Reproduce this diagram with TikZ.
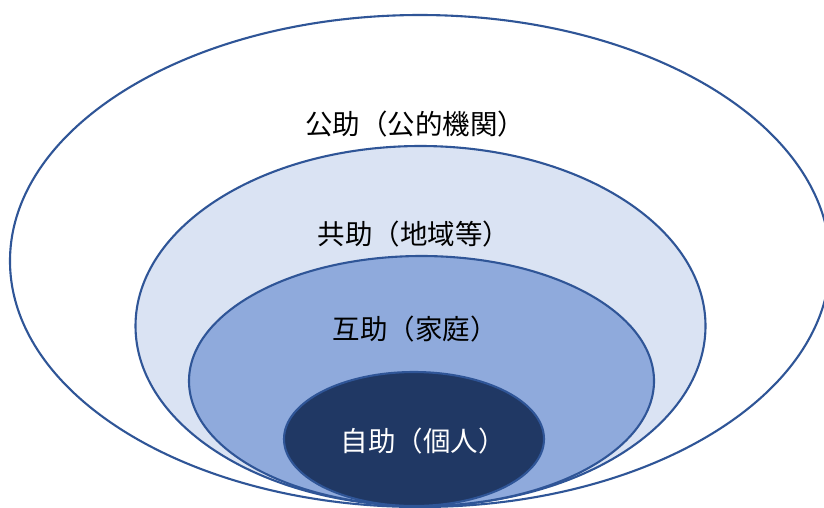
\documentclass[tikz,border=0pt]{standalone}
\usepackage{fontspec}
\newfontfamily\cjk{Noto Sans CJK JP}
\definecolor{edge}{HTML}{2F5597}
\definecolor{lightfill}{HTML}{DAE3F3}
\definecolor{midfill}{HTML}{8FAADC}
\definecolor{darkfill}{HTML}{203864}
\tikzset{
  ring/.style={draw=edge, line width=2.1pt},
  lbl/.style={font=\cjk\fontsize{27.5}{32}\selectfont, text=black, inner sep=0pt, anchor=center}
}
\begin{document}
\begin{tikzpicture}[x=1pt,y=-1pt]
\useasboundingbox (0,0) rectangle (824,507);
\clip (0,0) rectangle (824,507);
\fill[white] (0,0) rectangle (824,507);
\path[ring, fill=white] (420,261) ellipse [x radius=410, y radius=246];
\path[ring, fill=lightfill] (420.5,326) ellipse [x radius=285, y radius=180];
\path[ring, fill=midfill] (421.5,381) ellipse [x radius=232.5, y radius=125];
\path[ring, fill=darkfill] (414,439) ellipse [x radius=130, y radius=67];
\node[lbl] (kojo) at (415,124) {公助（公的機関）};
\node[lbl] (kyojo) at (414,234) {共助（地域等）};
\node[lbl] (gojo) at (415,329) {互助（家庭）};
\node[lbl, text=white] (jijo) at (423,441) {自助（個人）};
\end{tikzpicture}
\end{document}
